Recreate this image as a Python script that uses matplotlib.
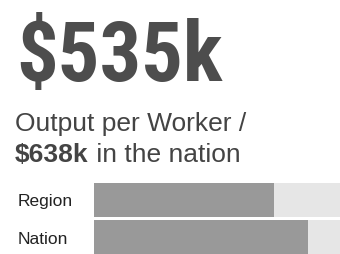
import matplotlib
matplotlib.use("Agg")
import matplotlib.pyplot as plt

headline = "$535k"
subtitle_line1 = "Output per Worker /"
nation_value_label = "$638k"
subtitle_rest = " in the nation"
categories = ["Region", "Nation"]
values = [535, 638]
scale_max = 733

W, H = 340, 254
fig = plt.figure(figsize=(W / 100, H / 100), dpi=100)

def fy(py):
    return 1 - py / H

fig.text(16.5 / W, fy(80.5), headline, family="Roboto Condensed", weight="bold",
         fontsize=59.5, color="#4d4d4d", va="baseline", ha="left")

fig.text(15 / W, fy(131.5), subtitle_line1, family="Liberation Sans",
         fontsize=19, color="#444444", va="baseline", ha="left")
t = fig.text(15 / W, fy(161.5), nation_value_label, family="Liberation Sans",
             weight="bold", fontsize=19, color="#444444", va="baseline", ha="left")
fig.canvas.draw()
bb = t.get_window_extent()
fig.text(bb.x1 / W, fy(161.5), subtitle_rest, family="Liberation Sans",
         fontsize=19, color="#444444", va="baseline", ha="left")

ax = fig.add_axes([94 / W, fy(254), (W - 94) / W, (254 - 183) / H])
h = 0.93
pos = list(range(len(categories)))
ax.barh(pos, [scale_max] * len(values), height=h, color="#e6e6e6", left=0)
ax.barh(pos, values, height=h, color="#999999", left=0)
ax.set_xlim(0, scale_max)
ax.set_ylim(len(categories) - 1 + h / 2, -h / 2)
ax.axis("off")

label_baselines = [206, 244.5]
for c, by in zip(categories, label_baselines):
    fig.text(18 / W, fy(by), c, family="Liberation Sans",
             fontsize=12.5, color="#222222", va="baseline", ha="left")

fig.savefig("out.png", dpi=100)
